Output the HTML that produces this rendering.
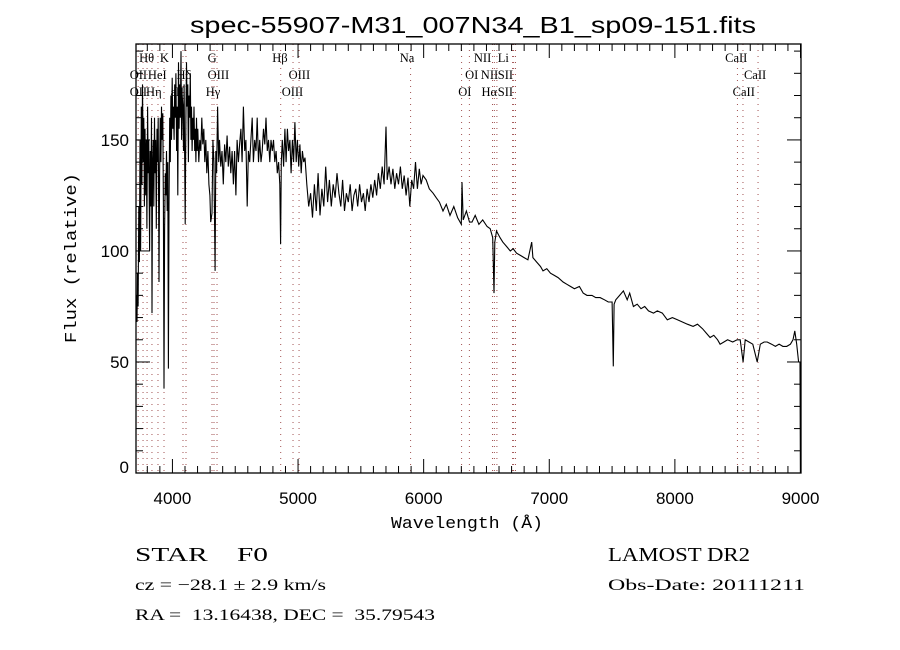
<!DOCTYPE html>
<html><head><meta charset="utf-8"><title>LAMOST spectrum</title>
<style>
html,body{margin:0;padding:0;background:#fff;}
svg{display:block;}
text{fill:#000;white-space:pre;}
</style></head>
<body>
<svg id="chart" width="900" height="650" viewBox="0 0 900 650" xmlns="http://www.w3.org/2000/svg" xml:space="preserve">
  <rect x="0" y="0" width="900" height="650" fill="#fff"/>
  <text x="473" y="33" text-anchor="middle" font-family="Liberation Sans, sans-serif" font-size="23" textLength="566" lengthAdjust="spacingAndGlyphs">spec-55907-M31_007N34_B1_sp09-151.fits</text>
  <g id="lines"></g>
  <g id="series"></g>
  <g id="axes"></g>
  <text x="467" y="528" text-anchor="middle" font-family="Liberation Mono, monospace" font-size="17" textLength="152" lengthAdjust="spacingAndGlyphs">Wavelength (Å)</text>
  <text x="76" y="258" text-anchor="middle" transform="rotate(-90 76 258)" font-family="Liberation Mono, monospace" font-size="17" textLength="170" lengthAdjust="spacingAndGlyphs">Flux (relative)</text>
  <text x="135" y="561" font-family="Liberation Serif, serif" font-size="20" textLength="133" lengthAdjust="spacingAndGlyphs">STAR    F0</text>
  <text x="608" y="561" font-family="Liberation Serif, serif" font-size="20" textLength="142" lengthAdjust="spacingAndGlyphs">LAMOST DR2</text>
  <text x="135" y="590" font-family="Liberation Serif, serif" font-size="16" textLength="191" lengthAdjust="spacingAndGlyphs">cz = −28.1 ± 2.9 km/s</text>
  <text x="608" y="590" font-family="Liberation Serif, serif" font-size="16" textLength="197" lengthAdjust="spacingAndGlyphs">Obs-Date: 20111211</text>
  <text x="135" y="620" font-family="Liberation Serif, serif" font-size="16" textLength="300" lengthAdjust="spacingAndGlyphs">RA =  13.16438, DEC =  35.79543</text>
</svg>
<script>
const waves = [3712,3718,3722,3727,3732,3737,3742,3747,3752,3757,3762,3767,3772,3777,3782,3787,3792,3797,3802,3807,3812,3818,3823,3828,3833,3837,3842,3847,3852,3857,3862,3867,3872,3877,3882,3887,3893,3898,3903,3908,3913,3918,3923,3928,3933,3938,3943,3948,3953,3958,3963,3968,3973,3978,3983,3988,3993,3998,4003,4008,4013,4018,4023,4028,4033,4038,4043,4048,4053,4058,4063,4068,4073,4078,4083,4088,4093,4098,4102,4107,4112,4117,4122,4127,4132,4137,4142,4147,4152,4157,4162,4167,4172,4177,4182,4187,4192,4197,4202,4210,4218,4226,4234,4242,4250,4258,4266,4274,4282,4290,4298,4305,4315,4322,4330,4340,4345,4352,4360,4368,4375,4385,4395,4405,4415,4425,4435,4445,4455,4465,4475,4485,4495,4505,4515,4525,4535,4545,4555,4565,4575,4585,4595,4605,4615,4625,4635,4645,4655,4665,4675,4685,4695,4705,4715,4725,4735,4745,4755,4765,4775,4785,4795,4805,4815,4825,4835,4845,4855,4861,4867,4875,4885,4895,4905,4915,4925,4935,4945,4955,4965,4975,4985,4995,5005,5015,5025,5035,5045,5055,5070,5085,5100,5115,5130,5145,5160,5175,5190,5205,5220,5235,5250,5265,5280,5295,5310,5325,5340,5355,5370,5385,5400,5415,5430,5445,5460,5475,5490,5505,5520,5535,5550,5565,5580,5595,5610,5625,5640,5655,5670,5685,5700,5710,5725,5740,5755,5770,5785,5800,5815,5830,5845,5860,5875,5890,5905,5920,5935,5950,5965,5980,5995,
  6020,6045,6075,6100,6125,6154,6180,6210,6240,6270,
  6300,6305,6315,6340,6365,6385,6410,6440,6470,6505,
  6530,6550,6560,6566,6580,6608,6630,6660,6690,6712,
  6740,6770,6800,6830,6860,6870,6900,6930,6950,6980,
  7010,7040,7070,7110,7140,7170,7200,7240,7270,7300,
  7340,7370,7405,7440,7470,7500,7510,7516,7530,7560,
  7590,7620,7640,7670,7700,7730,7760,7790,7830,7860,
  7900,7940,7980,8020,8060,8100,8145,8180,8220,8250,
  8280,8310,8340,8360,8390,8420,8460,8495,8520,8543,
  8560,8590,8620,8655,8680,8710,8735,8770,8800,8830,
  8860,8890,8920,8940,8955,8970,8985,8996,8999,9000];
const flux = [80,68,90,75,120,95,150,100,165,130,175,140,160,120,155,125,150,110,165,135,150,100,145,120,160,72,140,150,120,160,135,150,110,155,140,160,86,135,160,140,165,150,162,120,38,110,135,125,145,118,140,47,120,160,140,170,150,178,155,165,150,175,160,180,145,165,125,185,155,175,160,190,150,170,165,145,175,140,112,160,185,165,175,140,170,160,180,150,165,145,160,150,165,145,155,140,160,145,155,140,150,145,160,148,155,140,150,135,145,130,125,113,117,150,140,91,145,135,165,140,150,138,145,130,148,140,152,138,147,135,145,130,145,125,150,140,148,155,140,165,145,150,120,145,140,150,160,140,150,145,160,140,150,140,145,155,148,160,145,150,140,150,145,150,140,145,135,140,130,103,140,150,138,155,140,155,145,150,135,150,140,158,140,150,138,148,135,145,140,142,130,120,126,115,130,118,135,116,128,120,138,122,132,120,130,124,135,126,120,132,118,126,122,130,118,125,128,120,130,122,126,118,128,122,130,124,132,125,135,128,138,130,156,132,138,130,137,128,135,130,138,128,134,125,133,120,132,128,140,128,137,130,134,
  132,128,126,124,122,118,121,116,120,115,
  112,131,114,118,113,113,116,112,114,111,
  110,106,81,104,109,106,104,102,100,101,
  99,98,97,96,104,97,95,93,91,92,
  90,89,88,86,85,84,83,84,81,80,
  80,79,79,78,77,77,48,76,78,80,
  82,78,81,75,76,74,75,73,72,73,
  72,69,70,69,68,67,66,67,65,63,
  61,62,60,58,59,60,59,60,60,50,
  60,59,58,50,58,59,59,58,57,58,
  57,57,58,60,64,58,50,50,0,0];
const lineWaves = [3727,3766,3798,3837,3885,3933,4084,4108,4315,4331,4355,4862,4960,5008,5896,6302,6364,6548,6563,6583,6708,6716,6731,8498,8542,8662];
const lineLabels = ["Hθ","K","G","Hβ","Na","NII","Li","CaII","OII","HeI","Hδ","OIII","OIII","OI","NII","SII","CaII","OII","Hη","εII","Hγ","OIII","OI","Hα","SII","CaII"];
const labelRows = [0,0,0,0,0,0,0,0,1,1,1,1,1,1,1,1,1,2,2,2,2,2,2,2,2,2];
const labelWaves = [3735,3900,4280,4795,5810,6400,6590,8400,3660,3805,4032,4280,4925,6330,6455,6590,8550,3660,3790,3985,4265,4870,6275,6460,6590,8460];
const xTicks = [4000,5000,6000,7000,8000,9000];
const yTicks = [0,50,100,150];

const NS = "http://www.w3.org/2000/svg";
const L = 136, R = 801, T = 44, B = 473;
const XMIN = 3710, XMAX = 9004, YMIN = 0, YMAX = 193.2;
const xs = w => L + (w - XMIN) / (XMAX - XMIN) * (R - L);
const ys = f => B - (f - YMIN) / (YMAX - YMIN) * (B - T);
function mk(tag, attrs, parent){ const e = document.createElementNS(NS, tag); for (const k in attrs) e.setAttribute(k, attrs[k]); parent.appendChild(e); return e; }

const gl = document.getElementById('lines');
lineWaves.forEach((w) => {
  const ln = mk('line', {x1: xs(w), x2: xs(w), y1: T, y2: B, stroke: '#a05050', 'stroke-width': 1, 'stroke-dasharray': '1,5'}, gl);
  
  
});
const rowY = [62, 79, 96];
lineLabels.forEach((t, i) => {
  const tx = mk('text', {x: xs(labelWaves[i]), y: rowY[labelRows[i]], 'font-family': 'Liberation Serif, serif', 'font-size': 12.5}, gl);
  tx.textContent = t;
  
  
});

const gs = document.getElementById('series');
let d = '';
const n = Math.min(waves.length, flux.length);
for (let i = 0; i < n; i++) { d += (i ? 'L' : 'M') + xs(waves[i]).toFixed(1) + ',' + ys(Math.max(flux[i], YMIN)).toFixed(1); }
const path = mk('path', {d: d, fill: 'none', stroke: '#000', 'stroke-width': 1.1, 'stroke-linejoin': 'miter'}, gs);



const ga = document.getElementById('axes');
const frame = mk('rect', {x: L, y: T, width: R - L, height: B - T, fill: 'none', stroke: '#000', 'stroke-width': 1.3}, ga);


for (let w = 3800; w <= XMAX; w += 100) {
  const major = w % 1000 === 0;
  const len = major ? 14 : 7;
  const x = xs(w);
  mk('line', {x1: x, x2: x, y1: B, y2: B - len, stroke: '#000', 'stroke-width': 1}, ga);
  mk('line', {x1: x, x2: x, y1: T, y2: T + len, stroke: '#000', 'stroke-width': 1}, ga);
}
for (let f = 10; f <= YMAX; f += 10) {
  const major = f % 50 === 0;
  const len = major ? 14 : 7;
  const y = ys(f);
  mk('line', {x1: L, x2: L + len, y1: y, y2: y, stroke: '#000', 'stroke-width': 1}, ga);
  mk('line', {x1: R, x2: R - len, y1: y, y2: y, stroke: '#000', 'stroke-width': 1}, ga);
}
xTicks.forEach(v => {
  const t = mk('text', {x: xs(v), y: 504, 'text-anchor': 'middle', 'font-family': 'Liberation Sans, sans-serif', 'font-size': 17}, ga);
  t.textContent = v;
  
  
});
yTicks.forEach(v => {
  const t = mk('text', {x: 129, y: v === 0 ? ys(v) : ys(v) + 6, 'text-anchor': 'end', 'font-family': 'Liberation Sans, sans-serif', 'font-size': 17}, ga);
  t.textContent = v;
  
  
});
</script>
</body></html>
